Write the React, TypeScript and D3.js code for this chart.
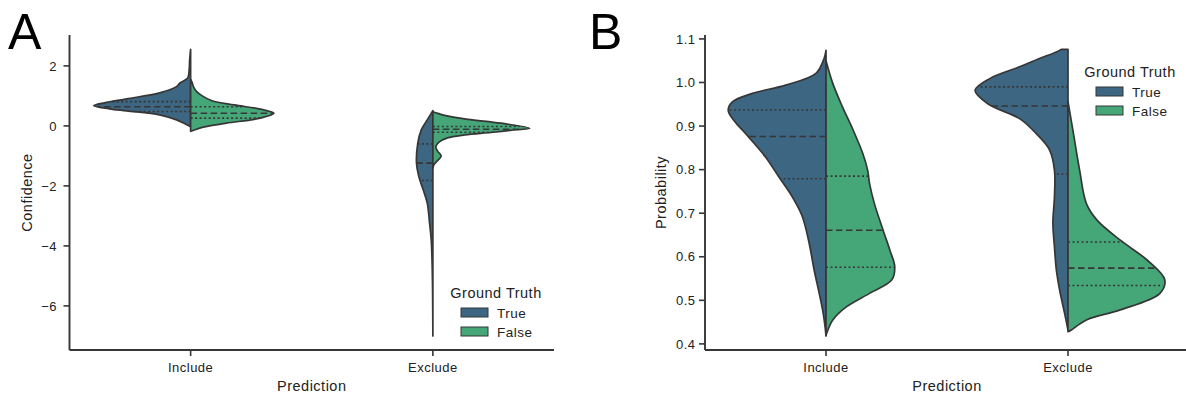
import React from "react";
import * as d3 from "d3";

const categories = ["Include", "Exclude"];
const hues = ["True", "False"];
const hueColors = ["#3d6682", "#45a778"];

const confTicks = [2, 0, -2, -4, -6];
const probTicks = [0.4, 0.5, 0.6, 0.7, 0.8, 0.9, 1.0, 1.1];

// density profiles: [value, half-width relative to the widest half]
const confIncludeTrue: [number, number][] = [
  [2.55, 0], [2.2, 0.01], [1.87, 0.015], [1.6, 0.03], [1.43, 0.11], [1.3, 0.15],
  [1.1, 0.32], [0.9, 0.66], [0.77, 0.89], [0.67, 1.0], [0.57, 0.84], [0.5, 0.66],
  [0.37, 0.32], [0.2, 0.145], [0.07, 0.06], [-0.03, 0],
];
const confIncludeFalse: [number, number][] = [
  [1.55, 0], [1.45, 0.015], [1.3, 0.03], [1.15, 0.06], [1.0, 0.12], [0.84, 0.22],
  [0.7, 0.45], [0.56, 0.72], [0.42, 0.86], [0.26, 0.72], [0.09, 0.37], [-0.04, 0.13],
  [-0.16, 0.02], [-0.18, 0],
];
const confExcludeTrue: [number, number][] = [
  [0.51, 0], [0.35, 0.03], [0.2, 0.058], [-0.13, 0.12], [-0.58, 0.156], [-1.24, 0.169],
  [-1.69, 0.145], [-2.13, 0.1], [-2.57, 0.058], [-3.24, 0.034], [-3.8, 0.017],
  [-4.57, 0.008], [-5.5, 0.003], [-7.0, 0],
];
const confExcludeFalse: [number, number][] = [
  [0.47, 0], [0.44, 0.03], [0.35, 0.12], [0.22, 0.36], [0.09, 0.7], [-0.08, 1.0],
  [-0.15, 0.8], [-0.22, 0.6], [-0.3, 0.33], [-0.4, 0.15], [-0.55, 0.06], [-0.7, 0.03],
  [-0.85, 0.05], [-1.0, 0.085], [-1.15, 0.05], [-1.3, 0.01], [-1.4, 0],
];

const probIncludeTrue: [number, number][] = [
  [1.074, 0], [1.055, 0.02], [1.021, 0.104], [0.994, 0.417], [0.975, 0.76], [0.955, 0.97],
  [0.936, 1.01], [0.914, 0.955], [0.875, 0.8], [0.829, 0.625], [0.783, 0.486], [0.738, 0.35],
  [0.692, 0.244], [0.631, 0.174], [0.569, 0.122], [0.516, 0.07], [0.478, 0.035],
  [0.44, 0.01], [0.418, 0],
];
const probIncludeFalse: [number, number][] = [
  [1.05, 0], [0.998, 0.07], [0.944, 0.17], [0.891, 0.28], [0.837, 0.38], [0.799, 0.43],
  [0.768, 0.45], [0.722, 0.5], [0.661, 0.59], [0.615, 0.66], [0.577, 0.71], [0.547, 0.68],
  [0.516, 0.45], [0.485, 0.21], [0.455, 0.07], [0.42, 0],
];
const probExcludeTrue: [number, number][] = [
  [1.076, 0.07], [1.07, 0.12], [1.055, 0.295], [1.036, 0.5], [1.01, 0.8], [0.982, 0.96],
  [0.95, 0.82], [0.917, 0.5], [0.883, 0.33], [0.845, 0.19], [0.799, 0.14], [0.738, 0.14],
  [0.677, 0.156], [0.623, 0.14], [0.569, 0.12], [0.524, 0.087], [0.47, 0.035], [0.432, 0],
];
const probExcludeFalse: [number, number][] = [
  [0.956, 0], [0.891, 0.05], [0.799, 0.12], [0.722, 0.19], [0.684, 0.3], [0.638, 0.54],
  [0.592, 0.82], [0.547, 1.0], [0.516, 0.95], [0.478, 0.54], [0.455, 0.19], [0.432, 0.035],
  [0.428, 0],
];

// quartiles [q1, median, q3]
const confIncludeTrueQ = [0.48, 0.64, 0.81];
const confIncludeFalseQ = [0.26, 0.42, 0.64];
const confExcludeTrueQ = [-1.82, -1.24, -0.6];
const confExcludeFalseQ = [-0.21, -0.11, -0.02];
const probIncludeTrueQ = [0.779, 0.876, 0.937];
const probIncludeFalseQ = [0.576, 0.661, 0.785];
const probExcludeTrueQ = [0.79, 0.946, 0.99];
const probExcludeFalseQ = [0.534, 0.574, 0.634];

const FONT = "'Liberation Sans', Arial, sans-serif";
const INK = "#363636";
const TXT = "#222";

interface Half {
  cat: string;
  hue: number;
  profile: [number, number][];
  quart: number[];
}

function widthAt(profile: [number, number][], v: number) {
  for (let i = 0; i < profile.length - 1; i++) {
    const [v0, w0] = profile[i];
    const [v1, w1] = profile[i + 1];
    if ((v <= v0 && v >= v1) || (v >= v0 && v <= v1)) {
      const t = v1 === v0 ? 0 : (v - v0) / (v1 - v0);
      return w0 + t * (w1 - w0);
    }
  }
  return 0;
}

interface PanelProps {
  letter: string;
  letterX: number;
  xRange: [number, number];
  yDomain: [number, number];
  ticks: number[];
  fmt: (n: number) => string;
  tickLabelEnd: number;
  yLabel: string;
  yLabelX: number;
  halves: Half[];
  legend: { titleX: number; titleY: number; patchX: number; patchY: number };
}

const Panel: React.FC<PanelProps> = (p) => {
  const top = 35, bottom = 350;
  const x = d3.scaleBand().domain(categories).range(p.xRange);
  const y = d3.scaleLinear().domain(p.yDomain).range([bottom, top]);
  const halfMax = x.bandwidth() * 0.4;
  const left = p.xRange[0];

  return (
    <g>
      <text x={p.letterX} y={49} fontSize={50} fontFamily={FONT} fill="#000">{p.letter}</text>

      {p.halves.map((h, i) => {
        const cx = x(h.cat)! + x.bandwidth() / 2;
        const s = h.hue === 0 ? -1 : 1;
        const area = d3.area<[number, number]>()
          .y(d => y(d[0]))
          .x0(cx)
          .x1(d => cx + s * d[1] * halfMax)
          .curve(d3.curveCatmullRom.alpha(0.5));
        return (
          <g key={i}>
            <path d={area(h.profile)!} fill={hueColors[h.hue]} stroke={INK} strokeWidth={1.7} strokeLinejoin="round" />
            {h.quart.map((q, j) => (
              <line key={j}
                x1={cx} x2={cx + s * widthAt(h.profile, q) * halfMax}
                y1={y(q)} y2={y(q)}
                stroke={INK} strokeWidth={1.6}
                strokeDasharray={j === 1 ? "6.5,3.5" : "2,2.5"} />
            ))}
          </g>
        );
      })}

      {/* axes */}
      <line x1={left} x2={left} y1={top} y2={bottom} stroke={INK} strokeWidth={1.9} />
      <line x1={left} x2={p.xRange[1]} y1={bottom} y2={bottom} stroke={INK} strokeWidth={1.9} />
      {p.ticks.map(t => (
        <g key={t}>
          <line x1={left - 6} x2={left} y1={y(t)} y2={y(t)} stroke={INK} strokeWidth={1.6} />
          <text x={p.tickLabelEnd} y={y(t) + 4.7} textAnchor="end" fontSize={13} fontFamily={FONT}
            fill={TXT} letterSpacing={0.5}>{p.fmt(t)}</text>
        </g>
      ))}
      {categories.map(c => {
        const cx = x(c)! + x.bandwidth() / 2;
        return (
          <g key={c}>
            <line x1={cx} x2={cx} y1={bottom} y2={bottom + 6} stroke={INK} strokeWidth={1.6} />
            <text x={cx} y={372} textAnchor="middle" fontSize={13} fontFamily={FONT} fill={TXT}
              letterSpacing={0.5}>{c}</text>
          </g>
        );
      })}
      <text x={(left + p.xRange[1]) / 2} y={391} textAnchor="middle" fontSize={14.5} fontFamily={FONT}
        fill={TXT} letterSpacing={0.5}>Prediction</text>
      <text transform={`translate(${p.yLabelX},${(top + bottom) / 2}) rotate(-90)`} textAnchor="middle"
        fontSize={14.5} fontFamily={FONT} fill={TXT} letterSpacing={0.5}>{p.yLabel}</text>

      {/* legend */}
      <text x={p.legend.titleX} y={p.legend.titleY} textAnchor="middle" fontSize={14.5} fontFamily={FONT}
        fill={TXT} letterSpacing={0.5}>Ground Truth</text>
      {hues.map((hName, i) => (
        <g key={hName}>
          <rect x={p.legend.patchX} y={p.legend.patchY + i * 19} width={27} height={9}
            fill={hueColors[i]} stroke={INK} strokeWidth={1} />
          <text x={p.legend.patchX + 36} y={p.legend.patchY + i * 19 + 9.5} fontSize={13.5} fontFamily={FONT}
            fill={TXT} letterSpacing={0.5}>{hName}</text>
        </g>
      ))}
    </g>
  );
};

const App: React.FC = () => {
  const confHalves: Half[] = [
    { cat: "Include", hue: 0, profile: confIncludeTrue, quart: confIncludeTrueQ },
    { cat: "Include", hue: 1, profile: confIncludeFalse, quart: confIncludeFalseQ },
    { cat: "Exclude", hue: 0, profile: confExcludeTrue, quart: confExcludeTrueQ },
    { cat: "Exclude", hue: 1, profile: confExcludeFalse, quart: confExcludeFalseQ },
  ];
  const probHalves: Half[] = [
    { cat: "Include", hue: 0, profile: probIncludeTrue, quart: probIncludeTrueQ },
    { cat: "Include", hue: 1, profile: probIncludeFalse, quart: probIncludeFalseQ },
    { cat: "Exclude", hue: 0, profile: probExcludeTrue, quart: probExcludeTrueQ },
    { cat: "Exclude", hue: 1, profile: probExcludeFalse, quart: probExcludeFalseQ },
  ];
  const fmtConf = d3.format("d");
  const fmtProb = d3.format(".1f");

  return (
    <svg width={1186} height={396} style={{ position: "absolute", left: 0, top: 0, background: "#fff" }}>
      <rect width={1186} height={396} fill="#fff" />
      <Panel letter="A" letterX={8} xRange={[69.5, 554]} yDomain={[-7.47, 3.03]}
        ticks={confTicks} fmt={fmtConf} tickLabelEnd={57} yLabel="Confidence" yLabelX={32}
        halves={confHalves}
        legend={{ titleX: 496, titleY: 298, patchX: 461, patchY: 308 }} />
      <Panel letter="B" letterX={589} xRange={[705, 1189]} yDomain={[0.386, 1.109]}
        ticks={probTicks} fmt={fmtProb} tickLabelEnd={695.5} yLabel="Probability" yLabelX={666}
        halves={probHalves}
        legend={{ titleX: 1130, titleY: 77, patchX: 1096, patchY: 87 }} />
    </svg>
  );
};

export default App;
